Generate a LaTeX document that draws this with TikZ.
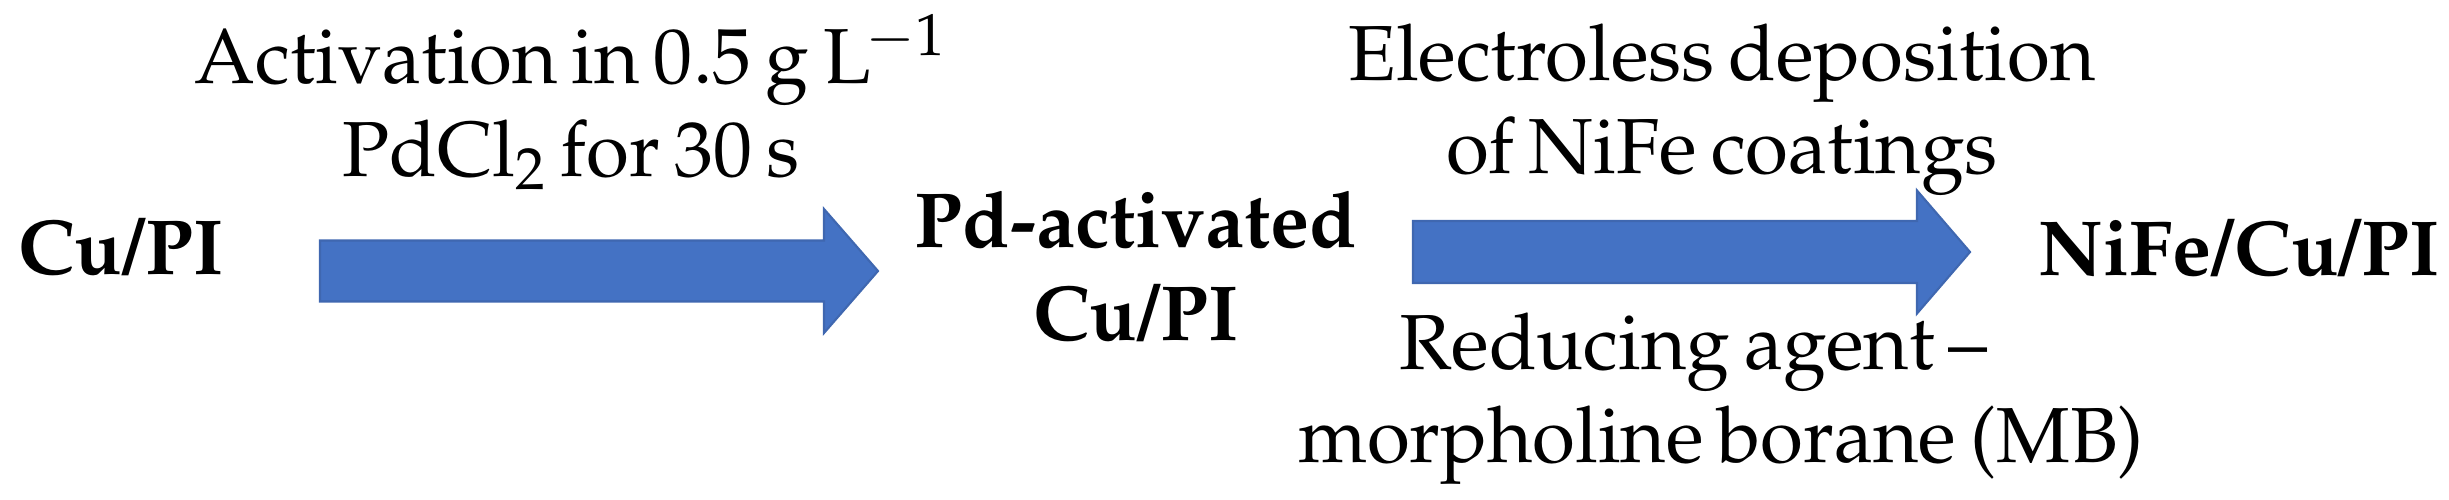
\documentclass[tikz,border=0pt]{standalone}
\usepackage[T1]{fontenc}
\usepackage{mathpazo}
\definecolor{arrowblue}{HTML}{4472C4}
\definecolor{arrowedge}{HTML}{3F67B0}
\newcommand{\labelfontx}{\fontsize{22.2}{26.2}\selectfont\spaceskip=0.18em\relax}
\tikzset{
  lbl/.style={inner sep=0pt, align=center, anchor=base, font=\labelfontx},
  blbl/.style={lbl, font=\fontsize{22.2}{26.2}\selectfont\bfseries},
  blockarrow/.style={fill=arrowblue, draw=arrowedge, line width=0.6pt, line join=miter}
}
\begin{document}
\begin{tikzpicture}[x=0.01cm, y=-0.01cm]
\useasboundingbox (0,0) rectangle (2449,499);
% text nodes (anchor base = baseline of the last line)
\node[blbl] (cu) at (121,274) {Cu/PI};
\node[lbl] (act) at (571,176) {Activation in 0.5 g L\kern-0.06em$^{-1}$\\PdCl$_2$ for 30 s};
\node[blbl] (pd) at (1136,340) {Pd-activated\\Cu/PI};
\node[lbl] (el) at (1722,173) {Electroless deposition\\of NiFe coatings};
\node[lbl] (red) at (1721,462) {Reducing agent --\hspace*{0.7em}\\morpholine borane (MB)};
\node[blbl] (nife) at (2239,275) {NiFe/Cu/PI};
% block arrows
\coordinate (a1) at (320,271);
\coordinate (a2) at (1413,252);
\path[blockarrow] (a1) ++(0,-30.5) -- ++(504,0) -- ++(0,-31.5) -- ++(54,62) -- ++(-54,62) -- ++(0,-31.5) -- ++(-504,0) -- cycle;
\path[blockarrow] (a2) ++(0,-31) -- ++(504,0) -- ++(0,-30.5) -- ++(53,61.5) -- ++(-53,61.5) -- ++(0,-30.5) -- ++(-504,0) -- cycle;
\end{tikzpicture}
\end{document}
